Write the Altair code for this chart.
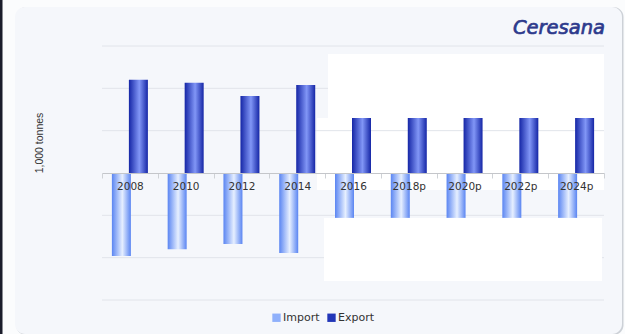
import altair as alt
import pandas as pd

years = ["2008", "2010", "2012", "2014", "2016", "2018p", "2020p", "2022p", "2024p"]
import_vals = [-1.96, -1.80, -1.68, -1.89, -1.06, -1.06, -1.06, -1.06, -1.06]
export_vals = [2.20, 2.13, 1.82, 2.08, 1.30, 1.30, 1.30, 1.30, 1.30]
series = ["Import", "Export"]
grid_vals = [-3, -2, -1, 1, 2, 3]

df = pd.DataFrame({
    "year": years * 2,
    "series": ["Import"] * len(years) + ["Export"] * len(years),
    "value": import_vals + export_vals,
})
imp_df = df[df.series == "Import"]
exp_df = df[df.series == "Export"]
grid_df = pd.DataFrame({"g": grid_vals})
one = pd.DataFrame({"k": [0]})
leg_df = pd.DataFrame({"series": series})

W, H = 502, 254
yscale = alt.Scale(domain=[-3, 3], nice=False)
xscale = alt.Scale(domain=years, paddingInner=0, paddingOuter=0)

imp_grad = alt.Gradient(gradient="linear", x1=0, x2=1, y1=0, y2=0, stops=[
    alt.GradientStop(color="#5a85f2", offset=0),
    alt.GradientStop(color="#e6efff", offset=0.55),
    alt.GradientStop(color="#5a85f2", offset=1),
])
exp_grad = alt.Gradient(gradient="linear", x1=0, x2=1, y1=0, y2=0, stops=[
    alt.GradientStop(color="#1526a6", offset=0),
    alt.GradientStop(color="#8196f6", offset=0.55),
    alt.GradientStop(color="#1526a6", offset=1),
])

base = alt.Chart(one)

shadow = base.mark_rect(fill="#cdd1d7", cornerRadius=10).encode(
    x=alt.value(-86), x2=alt.value(521.5), y=alt.value(-39), y2=alt.value(289))
panel = base.mark_rect(fill="#f5f7fb", cornerRadius=10).encode(
    x=alt.value(-87), x2=alt.value(520), y=alt.value(-39), y2=alt.value(288))
leftbar = base.mark_rect(fill="#1b1d2b").encode(
    x=alt.value(-102), x2=alt.value(-99.5), y=alt.value(-46), y2=alt.value(288))
mid_white = base.mark_rect(fill="#ffffff").encode(
    x=alt.value(215), x2=alt.value(502), y=alt.value(72), y2=alt.value(144))

grid = alt.Chart(grid_df).mark_rule(color="#e1e4ea", strokeWidth=1).encode(
    y=alt.Y("g:Q", scale=yscale, axis=None), x=alt.value(0), x2=alt.value(W))

imp_bars = alt.Chart(imp_df).mark_bar(fill=imp_grad, width=19, xOffset=-8.5).encode(
    x=alt.X("year:N", scale=xscale, sort=years, title=None,
            axis=alt.Axis(orient="bottom", offset=-127, labelAngle=0,
                          labelFont="DejaVu Sans", labelFontSize=10.5,
                          labelColor="#333333", labelPadding=3,
                          domainColor="#c4c6ca", tickColor="#cfd2d6",
                          tickSize=5, tickBand="extent", grid=False, zindex=1)),
    y=alt.Y("value:Q", scale=yscale, axis=None),
)
exp_bars = alt.Chart(exp_df).mark_bar(fill=exp_grad, width=19, xOffset=8.5).encode(
    x=alt.X("year:N", scale=xscale, sort=years),
    y=alt.Y("value:Q", scale=yscale, axis=None),
)

mask_top = base.mark_rect(fill="#ffffff").encode(
    x=alt.value(226), x2=alt.value(502), y=alt.value(8), y2=alt.value(72))
mask_bot = base.mark_rect(fill="#ffffff").encode(
    x=alt.value(222), x2=alt.value(500), y=alt.value(172), y2=alt.value(235))

logo = base.mark_text(text="Ceresana", font="DejaVu Sans", fontStyle="italic",
                      fontSize=19.5, color="#2d3a8c", stroke="#2d3a8c",
                      strokeWidth=0.7, align="right",
                      baseline="middle").encode(x=alt.value(503), y=alt.value(-18))
ytitle = base.mark_text(text="1,000 tonnes", font="Liberation Sans", fontSize=10.5,
                        color="#333333", angle=270, align="center",
                        baseline="middle").encode(x=alt.value(-62), y=alt.value(97))

legend_layer = alt.Chart(leg_df).mark_square(size=70, opacity=1, filled=True).encode(
    x=alt.value(-2000), y=alt.value(-2000),
    color=alt.Color("series:N",
                    scale=alt.Scale(domain=series, range=["#8fb0fb", "#2236b8"]),
                    legend=alt.Legend(title=None, orient="none", direction="horizontal",
                                      legendX=169, legendY=266,
                                      symbolType="square", symbolSize=70,
                                      symbolOpacity=1, symbolStrokeWidth=0,
                                      labelFont="DejaVu Sans", labelFontSize=11,
                                      labelColor="#333333", labelOffset=1,
                                      columnPadding=6, padding=0))
)

chart = alt.layer(
    shadow, panel, leftbar, mid_white, grid, imp_bars, exp_bars,
    mask_top, mask_bot, logo, ytitle, legend_layer
).properties(
    width=W, height=H,
    padding={"left": 102, "top": 46, "right": 21, "bottom": 34},
    autosize=alt.AutoSizeParams(type="none"),
    background="#fbfcfd",
).configure_view(strokeWidth=0)

chart.save("out.html", embed_options={"renderer": "svg", "actions": False})
